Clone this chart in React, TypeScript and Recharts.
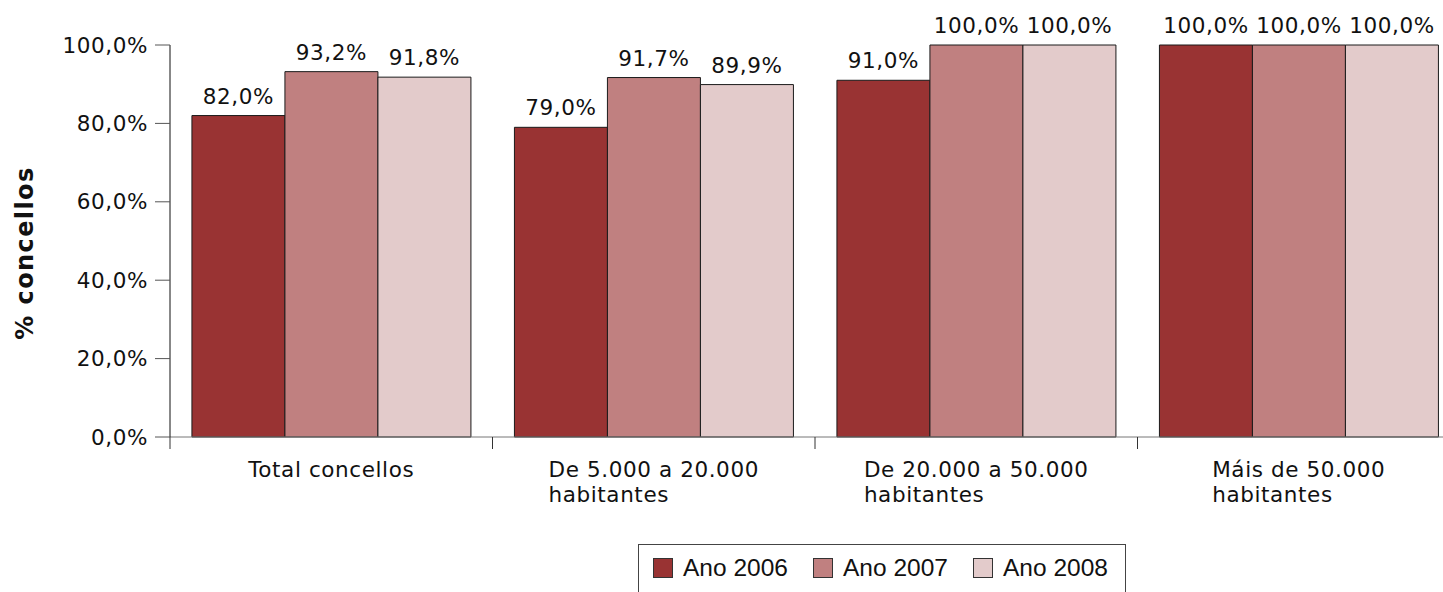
import React from 'react';
import { BarChart, Bar, XAxis, YAxis, LabelList } from 'recharts';

const categories = [
  ['Total concellos'],
  ['De 5.000 a 20.000', 'habitantes'],
  ['De 20.000 a 50.000', 'habitantes'],
  ['Máis de 50.000', 'habitantes'],
];
const ano2006 = [82.0, 79.0, 91.0, 100.0];
const ano2007 = [93.2, 91.7, 100.0, 100.0];
const ano2008 = [91.8, 89.9, 100.0, 100.0];
const yTicks = [0, 20, 40, 60, 80, 100];

const series = [
  { key: 'a2006', name: 'Ano 2006', color: '#993333', values: ano2006 },
  { key: 'a2007', name: 'Ano 2007', color: '#c08080', values: ano2007 },
  { key: 'a2008', name: 'Ano 2008', color: '#e3cbcb', values: ano2008 },
];

const data = categories.map((lines, i) => {
  const row: any = { cat: lines.join('\n') };
  series.forEach((s) => { row[s.key] = s.values[i]; });
  return row;
});

const FONT = '"DejaVu Sans", sans-serif';
const LS = 0.6;
const fmt = (v: number) => `${v.toFixed(1).replace('.', ',')}%`;

let ctx: CanvasRenderingContext2D | null = null;
function textWidth(t: string) {
  if (!ctx) ctx = document.createElement('canvas').getContext('2d');
  if (!ctx) return t.length * 12;
  ctx.font = '21.5px "DejaVu Sans"';
  return ctx.measureText(t).width + t.length * LS;
}

const CatTick = (props: any) => {
  const { x, y, payload } = props;
  const lines: string[] = String(payload.value).split('\n');
  const half = 322.5 / 2;
  const w = Math.max(...lines.map(textWidth));
  const y0 = y - 8; // axis line
  return (
    <g>
      <line x1={x - half} x2={x - half} y1={y0} y2={y0 + 12} stroke="#333" />
      {lines.map((l, i) => (
        <text
          key={i}
          x={x - w / 2}
          y={y0 + 40 + i * 25}
          fontSize={21.5}
          fontFamily={FONT}
          fill="#111"
          style={{ letterSpacing: LS }}
        >
          {l}
        </text>
      ))}
    </g>
  );
};

const YTitle = () => (
  <text
    x={33}
    y={253}
    transform="rotate(-90 33 253)"
    textAnchor="middle"
    fontSize={24}
    fontWeight="bold"
    fontFamily={FONT}
    fill="#111"
    style={{ letterSpacing: 1.4 }}
  >
    % concellos
  </text>
);

export default function App() {
  return (
    <div style={{ position: 'fixed', left: 0, top: 0, width: 1443, height: 592, overflow: 'hidden', background: '#fff' }}>
      <BarChart
        width={1470}
        height={592}
        data={data}
        margin={{ top: 45, right: 10, left: 70, bottom: 75 }}
        barCategoryGap="6.8%"
        barGap={0}
      >
        <XAxis
          dataKey="cat"
          height={80}
          tickLine={false}
          axisLine={{ stroke: '#777' }}
          tick={<CatTick />}
          interval={0}
        />
        <YAxis
          width={100}
          domain={[0, 100]}
          ticks={yTicks}
          tickFormatter={fmt}
          tickSize={15}
          tickMargin={7}
          axisLine={{ stroke: '#111' }}
          tickLine={{ stroke: '#555' }}
          tick={{ fontSize: 21.5, fontFamily: FONT, fill: '#111', style: { letterSpacing: LS } }}
          label={{ value: '% concellos', content: <YTitle /> }}
        />
        {series.map((s) => (
          <Bar key={s.key} dataKey={s.key} name={s.name} fill={s.color} stroke="#1a1a1a" strokeWidth={1} isAnimationActive={false}>
            <LabelList
              dataKey={s.key}
              position="top"
              offset={12}
              formatter={(v: any) => fmt(Number(v))}
              style={{ fontSize: 21.5, fontFamily: FONT, fill: '#111', letterSpacing: LS }}
            />
          </Bar>
        ))}
      </BarChart>
      <div
        style={{
          position: 'absolute',
          left: 638,
          top: 544,
          width: 488,
          height: 70,
          border: '1px solid #444',
          boxSizing: 'border-box',
          fontFamily: '"Liberation Sans", Arial, sans-serif',
          fontSize: 24.5,
          color: '#111',
        }}
      >
        {series.map((s, i) => (
          <div key={s.key} style={{ position: 'absolute', left: 14 + i * 160, top: 8, display: 'flex', alignItems: 'center' }}>
            <span style={{ width: 18, height: 18, background: s.color, border: '1px solid #333', display: 'inline-block' }} />
            <span style={{ marginLeft: 10, lineHeight: '30px' }}>{s.name}</span>
          </div>
        ))}
      </div>
    </div>
  );
}
